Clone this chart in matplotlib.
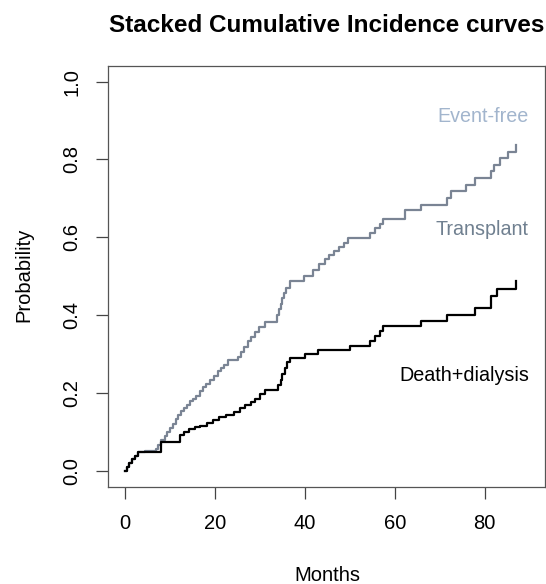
import numpy as np
import matplotlib
matplotlib.use("Agg")
import matplotlib.pyplot as plt

plt.rcParams['font.family'] = ['Liberation Sans', 'DejaVu Sans']

# death + dialysis cumulative incidence (lower curve)
months_dd = [0, 0.4, 0.9, 1.5, 2.2, 3.0, 8.0, 12.2, 13.2, 14.2, 15.5, 16.8, 18.2,
             19.6, 21.0, 22.4, 24.2, 25.6, 26.8, 28.0, 29.0, 30.0, 31.2, 34.0,
             34.6, 35.0, 35.5, 36.0, 36.6, 40.0, 43.0, 50.0, 54.4, 55.5, 56.8,
             57.4, 65.9, 71.7, 77.8, 81.5, 82.8, 87.0]
cif_dd = [0, 0.01, 0.02, 0.03, 0.04, 0.048, 0.075, 0.092, 0.1, 0.107, 0.112,
          0.117, 0.124, 0.132, 0.138, 0.145, 0.152, 0.162, 0.17, 0.178, 0.186,
          0.197, 0.207, 0.22, 0.235, 0.25, 0.265, 0.28, 0.29, 0.3, 0.31, 0.32,
          0.334, 0.346, 0.36, 0.372, 0.385, 0.4, 0.42, 0.449, 0.468, 0.487]

# death + dialysis + transplant stacked on top (upper curve)
months_tx = [0, 0.4, 0.9, 1.5, 2.2, 3.0, 4.5, 6.8, 7.4, 7.95, 8.8, 9.4, 10.0,
             10.7, 11.3, 11.9, 12.5, 13.1, 13.8, 14.5, 15.2, 15.9, 16.6, 17.3,
             18.1, 19.0, 19.9, 20.6, 21.3, 22.1, 22.9, 25.1, 25.8, 26.5, 27.3,
             28.1, 29.0, 29.9, 31.1, 33.8, 34.2, 34.6, 35.0, 35.4, 35.8, 36.6,
             39.8, 41.9, 43.2, 44.4, 45.4, 46.4, 47.5, 48.6, 49.7, 54.4, 55.5,
             56.7, 57.4, 62.2, 65.9, 71.5, 72.6, 75.9, 77.8, 81.4, 82.0, 83.3,
             85.2, 87.0]
cif_tx = [0, 0.01, 0.02, 0.03, 0.04, 0.048, 0.052, 0.058, 0.068, 0.079, 0.09,
          0.1, 0.111, 0.122, 0.133, 0.144, 0.154, 0.163, 0.171, 0.179, 0.186,
          0.193, 0.205, 0.215, 0.224, 0.233, 0.245, 0.256, 0.264, 0.273, 0.286,
          0.293, 0.305, 0.318, 0.333, 0.345, 0.358, 0.37, 0.384, 0.4, 0.415,
          0.43, 0.445, 0.458, 0.47, 0.487, 0.5, 0.517, 0.532, 0.545, 0.555,
          0.565, 0.575, 0.586, 0.598, 0.612, 0.625, 0.635, 0.647, 0.671, 0.684,
          0.7, 0.718, 0.735, 0.753, 0.77, 0.787, 0.803, 0.82, 0.838]

x_ticks = [0, 20, 40, 60, 80]
y_ticks = [0.0, 0.2, 0.4, 0.6, 0.8, 1.0]
y_tick_labels = ['0.0', '0.2', '0.4', '0.6', '0.8', '1.0']

W, H = 546, 584
fig = plt.figure(figsize=(W / 100, H / 100), dpi=100)
ax = fig.add_axes([108.3 / W, (H - 486.7) / H, (545 - 108.3) / W, (486.7 - 66) / H])

ax.step(months_tx, cif_tx, where='post', color='#7a8494', lw=1.6)
ax.step(months_dd, cif_dd, where='post', color='black', lw=1.6)

ax.set_xlim(-3.7, 93.4)
ax.set_ylim(-0.04, 1.04)

ax.text(89.8, 0.895, 'Event-free', color='#a2b5cd', fontsize=14.2, ha='right', va='baseline')
ax.text(89.8, 0.607, 'Transplant', color='#708090', fontsize=14.2, ha='right', va='baseline')
ax.text(89.8, 0.231, 'Death+dialysis', color='black', fontsize=14.2, ha='right', va='baseline')

ax.set_xticks(x_ticks)
ax.set_yticks(y_ticks)
ax.set_yticklabels(y_tick_labels, rotation=90, va='center')
ax.tick_params(length=8.5, width=0.9, color='#444444', labelsize=14.5, pad=11)
for s in ax.spines.values():
    s.set_color('#555555')
    s.set_linewidth(0.9)

fig.text(326.5 / W, 1 - 32 / H, 'Stacked Cumulative Incidence curves',
         fontsize=17.5, fontweight='bold', ha='center', va='baseline')
fig.text(327 / W, 1 - 580.7 / H, 'Months', fontsize=14.5, ha='center', va='baseline')
fig.text(24 / W, 1 - 275 / H, 'Probability', fontsize=14.5, rotation=90,
         ha='center', va='center')

fig.savefig('out.png', dpi=100)
